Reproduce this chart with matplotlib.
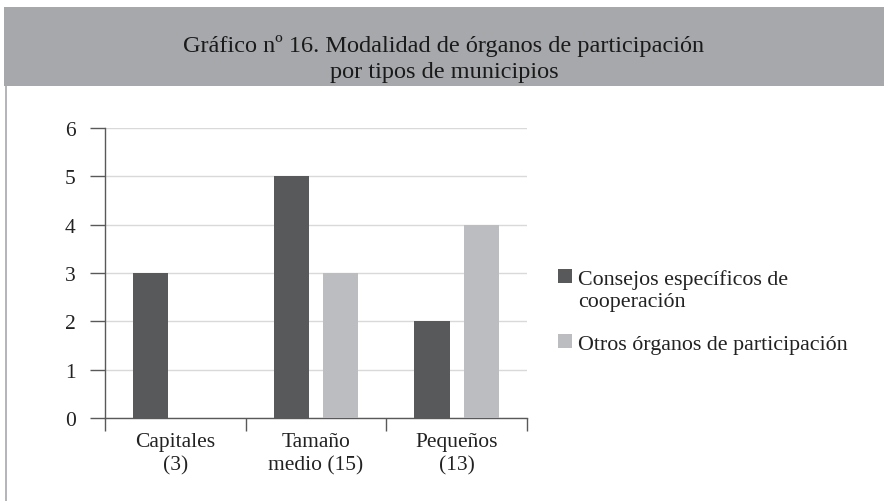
import matplotlib
matplotlib.use("Agg")
import matplotlib.pyplot as plt
from matplotlib.patches import Rectangle
import numpy as np

categories = ["Capitales\n(3)", "Tamaño\nmedio (15)", "Pequeños\n(13)"]
consejos = [3, 5, 2]
otros = [0, 3, 4]
series_names = ["Consejos específicos de\ncooperación", "Otros órganos de participación"]
yticks = [0, 1, 2, 3, 4, 5, 6]
title = "Gráfico nº 16. Modalidad de órganos de participación\npor tipos de municipios"

W, H = 884, 502
plt.rcParams['font.family'] = ['Liberation Serif', 'DejaVu Serif']
fig = plt.figure(figsize=(W / 100, H / 100), dpi=100)
fig.patch.set_facecolor('white')


def fx(px):
    return px / W


def fy(py):
    return 1 - py / H


# Title band
fig.patches.append(Rectangle((fx(4), fy(87)), 1 - fx(4), 79 / H, transform=fig.transFigure,
                             facecolor='#a7a8ab', edgecolor='none', zorder=0))
fig.lines.append(plt.Line2D([fx(6), fx(6)], [0, fy(87)], transform=fig.transFigure,
                            color='#a7a8ab', lw=1.2))
fig.text(0.5 + 2 / W, fy(59), title, ha='center', va='center', fontsize=17.5,
         color='#1a1a1a', linespacing=1.3)

# Axes
left, right, top, bottom = 105, 527, 129, 419
ax = fig.add_axes([fx(left), fy(bottom), (right - left) / W, (bottom - top) / H])
x = np.arange(len(categories))
bw = 0.25
off = 0.175
dark = '#58595b'
light = '#bcbdc0'
colors = [dark, light]
ax.bar(x - off, consejos, width=bw, color=dark, zorder=3)
ax.bar(x + off, otros, width=bw, color=light, zorder=3)

ax.set_xlim(-0.5, len(categories) - 0.5)
ax.set_ylim(0, 6)
ax.set_yticks(yticks)
ax.set_yticklabels([str(v) for v in yticks], fontsize=15.5, color='#222222')
ax.yaxis.grid(True, color='#d9d9d9', lw=1.0, zorder=0)
ax.set_axisbelow(True)

ax.set_xticks(np.arange(len(categories) + 1) - 0.5)
ax.set_xticklabels([])
ax.set_xticks(x, minor=True)
ax.set_xticklabels(categories, minor=True, fontsize=15.5, color='#222222', linespacing=1.3)
ax.tick_params(axis='x', which='major', length=9, width=1, color='#595959', direction='out')
ax.tick_params(axis='x', which='minor', length=0, pad=10)
ax.tick_params(axis='y', length=11, width=1, color='#595959', direction='out', pad=10)

for s in ['top', 'right']:
    ax.spines[s].set_visible(False)
for s in ['left', 'bottom']:
    ax.spines[s].set_color('#595959')
    ax.spines[s].set_linewidth(1)

# Manual legend (square aligned with first text line)
entry_baselines = [285, 350]
sq = 14
for name, col, base in zip(series_names, colors, entry_baselines):
    fig.patches.append(Rectangle((fx(558), fy(base - 1)), sq / W, sq / H,
                                 transform=fig.transFigure, facecolor=col, edgecolor='none'))
    lines = name.split("\n")
    for i, ln in enumerate(lines):
        fig.text(fx(578), fy(base + 22 * i), ln, ha='left', va='baseline',
                 fontsize=15.8, color='#222222')

fig.savefig('out.png', dpi=100)
